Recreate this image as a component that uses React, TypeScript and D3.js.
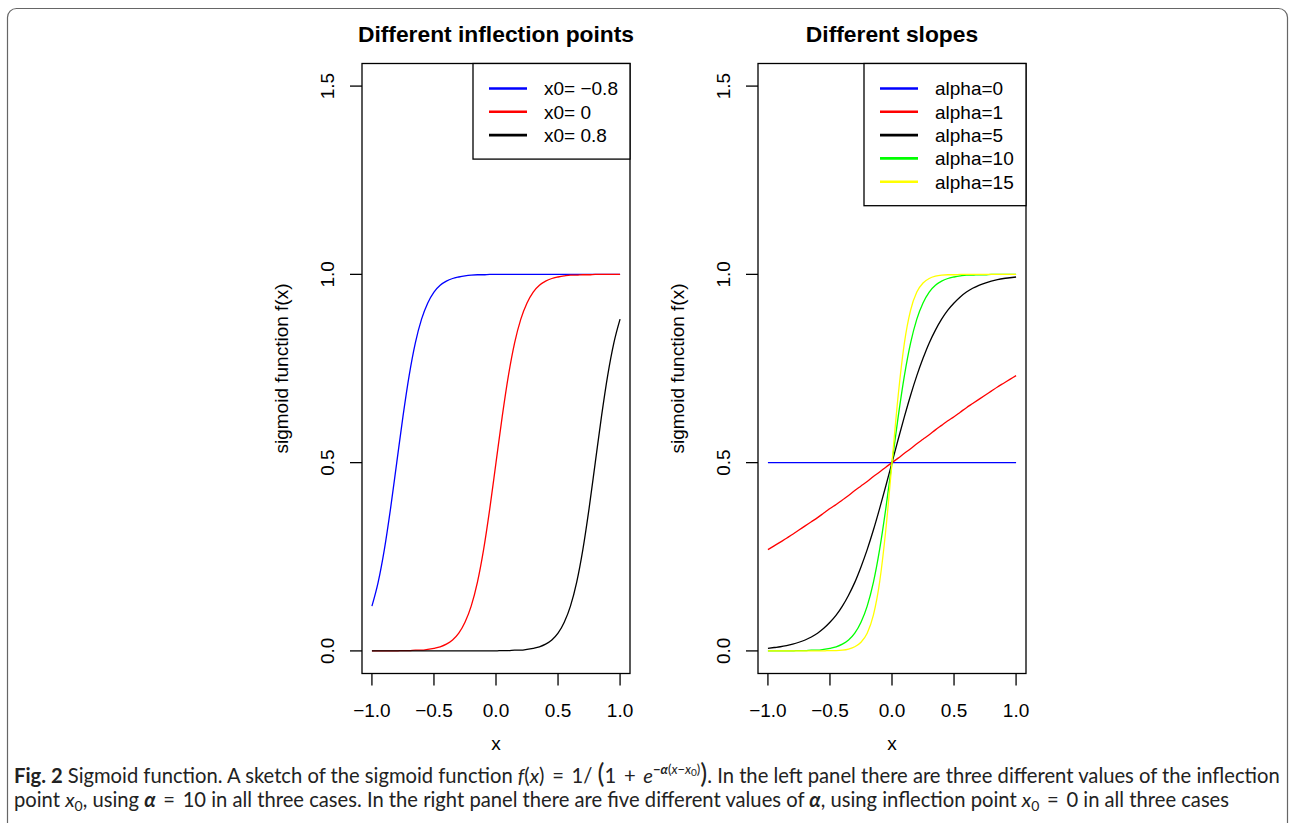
import React, { useEffect } from "react";
import * as d3 from "d3";

// x grid shared by all curves (step 0.05 from -1 to 1)
const xGrid = [
  -1.0, -0.95, -0.9, -0.85, -0.8, -0.75, -0.7, -0.65, -0.6, -0.55, -0.5,
  -0.45, -0.4, -0.35, -0.3, -0.25, -0.2, -0.15, -0.1, -0.05, 0.0,
  0.05, 0.1, 0.15, 0.2, 0.25, 0.3, 0.35, 0.4, 0.45, 0.5,
  0.55, 0.6, 0.65, 0.7, 0.75, 0.8, 0.85, 0.9, 0.95, 1.0,
];

// Left panel: different inflection points
const leftLabels = ["x0= \u22120.8", "x0= 0", "x0= 0.8"];
const leftColors = ["#0000ff", "#ff0000", "#000000"];
const leftX0m08 = [
  0.119, 0.182, 0.269, 0.378, 0.5, 0.622, 0.731, 0.818, 0.881, 0.924, 0.953,
  0.971, 0.982, 0.989, 0.993, 0.996, 0.998, 0.999, 0.999, 1.0, 1.0,
  1.0, 1.0, 1.0, 1.0, 1.0, 1.0, 1.0, 1.0, 1.0, 1.0,
  1.0, 1.0, 1.0, 1.0, 1.0, 1.0, 1.0, 1.0, 1.0, 1.0,
];
const leftX00 = [
  0.0, 0.0, 0.0, 0.0, 0.0, 0.001, 0.001, 0.002, 0.002, 0.004, 0.007,
  0.011, 0.018, 0.029, 0.047, 0.076, 0.119, 0.182, 0.269, 0.378, 0.5,
  0.622, 0.731, 0.818, 0.881, 0.924, 0.953, 0.971, 0.982, 0.989, 0.993,
  0.996, 0.998, 0.998, 0.999, 0.999, 1.0, 1.0, 1.0, 1.0, 1.0,
];
const leftX08 = [
  0.0, 0.0, 0.0, 0.0, 0.0, 0.0, 0.0, 0.0, 0.0, 0.0, 0.0,
  0.0, 0.0, 0.0, 0.0, 0.0, 0.0, 0.0, 0.0, 0.0, 0.0,
  0.001, 0.001, 0.002, 0.002, 0.004, 0.007, 0.011, 0.018, 0.029, 0.047,
  0.076, 0.119, 0.182, 0.269, 0.378, 0.5, 0.622, 0.731, 0.818, 0.881,
];
const leftSeries = [leftX0m08, leftX00, leftX08];

// Right panel: different slopes
const rightLabels = ["alpha=0", "alpha=1", "alpha=5", "alpha=10", "alpha=15"];
const rightColors = ["#0000ff", "#ff0000", "#000000", "#00ff00", "#ffff00"];
const alpha0 = [
  0.5, 0.5, 0.5, 0.5, 0.5, 0.5, 0.5, 0.5, 0.5, 0.5, 0.5,
  0.5, 0.5, 0.5, 0.5, 0.5, 0.5, 0.5, 0.5, 0.5, 0.5,
  0.5, 0.5, 0.5, 0.5, 0.5, 0.5, 0.5, 0.5, 0.5, 0.5,
  0.5, 0.5, 0.5, 0.5, 0.5, 0.5, 0.5, 0.5, 0.5, 0.5,
];
const alpha1 = [
  0.269, 0.279, 0.289, 0.299, 0.31, 0.321, 0.332, 0.343, 0.354, 0.366, 0.378,
  0.389, 0.401, 0.413, 0.426, 0.438, 0.45, 0.463, 0.475, 0.488, 0.5,
  0.512, 0.525, 0.537, 0.55, 0.562, 0.574, 0.587, 0.599, 0.611, 0.622,
  0.634, 0.646, 0.657, 0.668, 0.679, 0.69, 0.701, 0.711, 0.721, 0.731,
];
const alpha5 = [
  0.007, 0.009, 0.011, 0.014, 0.018, 0.023, 0.029, 0.037, 0.047, 0.06, 0.076,
  0.095, 0.119, 0.148, 0.182, 0.223, 0.269, 0.321, 0.378, 0.438, 0.5,
  0.562, 0.622, 0.679, 0.731, 0.777, 0.818, 0.852, 0.881, 0.905, 0.924,
  0.94, 0.953, 0.963, 0.971, 0.977, 0.982, 0.986, 0.989, 0.991, 0.993,
];
const alpha10 = [
  0.0, 0.0, 0.0, 0.0, 0.0, 0.001, 0.001, 0.002, 0.002, 0.004, 0.007,
  0.011, 0.018, 0.029, 0.047, 0.076, 0.119, 0.182, 0.269, 0.378, 0.5,
  0.622, 0.731, 0.818, 0.881, 0.924, 0.953, 0.971, 0.982, 0.989, 0.993,
  0.996, 0.998, 0.998, 0.999, 0.999, 1.0, 1.0, 1.0, 1.0, 1.0,
];
const alpha15 = [
  0.0, 0.0, 0.0, 0.0, 0.0, 0.0, 0.0, 0.0, 0.0, 0.0, 0.001,
  0.001, 0.002, 0.005, 0.011, 0.023, 0.047, 0.095, 0.182, 0.321, 0.5,
  0.679, 0.818, 0.905, 0.953, 0.977, 0.989, 0.995, 0.998, 0.999, 0.999,
  1.0, 1.0, 1.0, 1.0, 1.0, 1.0, 1.0, 1.0, 1.0, 1.0,
];
const rightSeries = [alpha0, alpha1, alpha5, alpha10, alpha15];

const xTicks = [-1.0, -0.5, 0.0, 0.5, 1.0];
const yTicks = [0.0, 0.5, 1.0, 1.5];

const FONT = "'Liberation Sans', Arial, Helvetica, sans-serif";
const CAP_FONT = "Lato, 'Open Sans', sans-serif";

const fmt = (v: number) => {
  const s = v.toFixed(1);
  return s.startsWith("-") ? "\u2212" + s.slice(1) : s;
};

type PanelProps = {
  left: number;
  title: string;
  series: number[][];
  colors: string[];
  labels: string[];
  legendLeft: number;
};

function Panel({ left, title, series, colors, labels, legendLeft }: PanelProps) {
  const width = 268;
  const top = 63.5;
  const bottom = 673.5;
  const x = d3.scaleLinear().domain([-1.08, 1.08]).range([left, left + width]);
  const y = d3.scaleLinear().domain([-0.06, 1.56]).range([bottom, top]);
  const line = d3
    .line<number>()
    .x((_, i) => x(xGrid[i]))
    .y((d) => y(d))
    .curve(d3.curveMonotoneX);
  const right = left + width;
  const cx = left + width / 2;
  const legRowH = 23.3;
  const legTop = top;
  const legH = 25 + legRowH * (labels.length - 1) + 24;
  return (
    <g>
      <text x={cx} y={42} textAnchor="middle" fontFamily={FONT} fontWeight="bold" fontSize={22.8}>
        {title}
      </text>
      {series.map((s, i) => (
        <path key={i} d={line(s) || ""} fill="none" stroke={colors[i]} strokeWidth={1.3} />
      ))}
      <rect x={left} y={top} width={width} height={bottom - top} fill="none" stroke="#000" strokeWidth={1.3} />
      {xTicks.map((t) => (
        <g key={"x" + t}>
          <line x1={x(t)} x2={x(t)} y1={bottom} y2={bottom + 12} stroke="#000" strokeWidth={1.3} />
          <text x={x(t)} y={717} textAnchor="middle" fontFamily={FONT} fontSize={19}>
            {fmt(t)}
          </text>
        </g>
      ))}
      <text x={cx} y={750} textAnchor="middle" fontFamily={FONT} fontSize={19}>
        x
      </text>
      {yTicks.map((t) => (
        <g key={"y" + t}>
          <line x1={left - 12} x2={left} y1={y(t)} y2={y(t)} stroke="#000" strokeWidth={1.3} />
          <text
            transform={`translate(${left - 28},${y(t)}) rotate(-90)`}
            textAnchor="middle"
            fontFamily={FONT}
            fontSize={19}
          >
            {fmt(t)}
          </text>
        </g>
      ))}
      <text
        transform={`translate(${left - 74},${(top + bottom) / 2}) rotate(-90)`}
        textAnchor="middle"
        fontFamily={FONT}
        fontSize={19}
      >
        sigmoid function f(x)
      </text>
      <rect x={legendLeft} y={legTop} width={right - legendLeft} height={legH} fill="#fff" stroke="#000" strokeWidth={1.3} />
      {labels.map((lab, i) => {
        const ly = legTop + 25 + i * legRowH;
        return (
          <g key={lab}>
            <line x1={legendLeft + 16} x2={legendLeft + 54} y1={ly} y2={ly} stroke={colors[i]} strokeWidth={2.6} />
            <text x={legendLeft + 71} y={ly} dy="0.36em" fontFamily={FONT} fontSize={19}>
              {lab}
            </text>
          </g>
        );
      })}
    </g>
  );
}

export default function App() {
  useEffect(() => {
    document.body.style.margin = "0";
    document.body.style.overflow = "hidden";
  }, []);
  const cs = 20.2;
  return (
    <svg width={1292} height={823} style={{ display: "block", background: "#fff" }}>
      <rect x={0} y={0} width={1292} height={823} fill="#fff" />
      <rect x={7.5} y={8.5} width={1280} height={900} rx={9} fill="none" stroke="#666" strokeWidth={1.2} />
      <Panel
        left={362}
        title="Different inflection points"
        series={leftSeries}
        colors={leftColors}
        labels={leftLabels}
        legendLeft={473}
      />
      <Panel
        left={758}
        title="Different slopes"
        series={rightSeries}
        colors={rightColors}
        labels={rightLabels}
        legendLeft={864}
      />
      <text x={14} y={783} fontFamily={CAP_FONT} fontSize={cs} fill="#222">
        <tspan fontWeight="bold">Fig. 2</tspan>
        <tspan> Sigmoid function. A sketch of the sigmoid function </tspan>
        <tspan fontStyle="italic">f</tspan>
        <tspan>(</tspan>
        <tspan fontStyle="italic">x</tspan>
        <tspan>{") \u2009=\u2009 1/ "}</tspan>
        <tspan fontSize={26}>(</tspan>
        <tspan>{"1 \u2009+\u2009 "}</tspan>
        <tspan fontStyle="italic">e</tspan>
        <tspan fontSize={13} dy={-9}>
          <tspan fontWeight="bold" fontStyle="italic">{"\u2212\u03b1"}</tspan>
          <tspan>(</tspan>
          <tspan fontStyle="italic">x</tspan>
          <tspan>{"\u2212"}</tspan>
          <tspan fontStyle="italic">x</tspan>
          <tspan fontSize={10} dy={2}>0</tspan>
          <tspan dy={-2}>)</tspan>
        </tspan>
        <tspan fontSize={26} dy={9}>)</tspan>
        <tspan>. In the left panel there are three different values of the inflection</tspan>
      </text>
      <text x={14} y={807} fontFamily={CAP_FONT} fontSize={cs} fill="#222">
        <tspan>point </tspan>
        <tspan fontStyle="italic">x</tspan>
        <tspan fontSize={14} dy={4}>0</tspan>
        <tspan dy={-4}>, using </tspan>
        <tspan fontWeight="bold" fontStyle="italic">{"\u03b1"}</tspan>
        <tspan>{" \u2009=\u2009 10 in all three cases. In the right panel there are five different values of "}</tspan>
        <tspan fontWeight="bold" fontStyle="italic">{"\u03b1"}</tspan>
        <tspan>, using inflection point </tspan>
        <tspan fontStyle="italic">x</tspan>
        <tspan fontSize={14} dy={4}>0</tspan>
        <tspan dy={-4}>{" \u2009=\u2009 0 in all three cases"}</tspan>
      </text>
    </svg>
  );
}
